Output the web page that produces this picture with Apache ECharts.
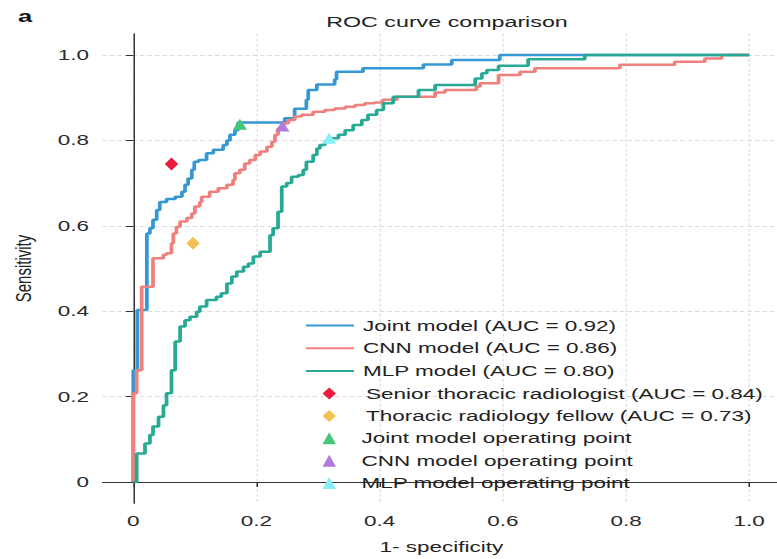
<!DOCTYPE html>
<html>
<head>
<meta charset="utf-8">
<script src="https://cdn.jsdelivr.net/npm/echarts@6/dist/echarts.min.js"></script>
<style>
  html, body { margin: 0; padding: 0; background: #fff; overflow: hidden; }
  /* the reference figure is horizontally stretched; reproduce by scaling the chart box */
  #chart { width: 518px; height: 559px; transform: scaleX(1.5); transform-origin: 0 0; }
</style>
</head>
<body>
<div id="chart"></div>
<script>
// ---- data (ROC points: [1 - specificity, sensitivity]) ----
const jointModel = [[0,0],[0,0.262],[0.0065,0.403],[0.022,0.582],[0.027,0.594],[0.032,0.614],[0.038,0.637],[0.043,0.656],[0.054,0.663],[0.068,0.668],[0.079,0.68],[0.084,0.696],[0.089,0.711],[0.095,0.731],[0.099,0.75],[0.106,0.754],[0.119,0.77],[0.13,0.778],[0.146,0.789],[0.152,0.80],[0.157,0.813],[0.165,0.824],[0.17,0.842],[0.246,0.852],[0.262,0.874],[0.281,0.895],[0.284,0.918],[0.298,0.931],[0.327,0.943],[0.33,0.961],[0.373,0.969],[0.471,0.978],[0.517,0.988],[0.595,1.0],[1,1]];
const cnnModel = [[0,0],[0,0.208],[0.0055,0.262],[0.0136,0.457],[0.032,0.524],[0.049,0.532],[0.054,0.536],[0.062,0.559],[0.065,0.582],[0.07,0.598],[0.076,0.61],[0.087,0.618],[0.095,0.629],[0.1,0.645],[0.108,0.656],[0.111,0.668],[0.124,0.68],[0.138,0.688],[0.152,0.696],[0.162,0.707],[0.165,0.723],[0.173,0.731],[0.181,0.746],[0.189,0.754],[0.198,0.766],[0.206,0.774],[0.217,0.785],[0.225,0.797],[0.23,0.813],[0.235,0.828],[0.244,0.84],[0.252,0.848],[0.262,0.856],[0.273,0.86],[0.292,0.867],[0.311,0.871],[0.327,0.875],[0.344,0.879],[0.36,0.883],[0.376,0.887],[0.392,0.889],[0.405,0.895],[0.428,0.902],[0.49,0.912],[0.506,0.918],[0.557,0.926],[0.563,0.934],[0.593,0.953],[0.628,0.961],[0.652,0.969],[0.79,0.977],[0.879,0.984],[0.928,0.992],[0.955,1.0],[1,1]];
const mlpModel = [[0,0],[0.0055,0.067],[0.019,0.09],[0.027,0.11],[0.032,0.13],[0.041,0.153],[0.049,0.18],[0.054,0.208],[0.062,0.262],[0.068,0.329],[0.076,0.364],[0.084,0.379],[0.092,0.387],[0.103,0.399],[0.108,0.411],[0.119,0.426],[0.135,0.434],[0.143,0.442],[0.152,0.465],[0.16,0.481],[0.168,0.493],[0.179,0.504],[0.187,0.512],[0.195,0.528],[0.206,0.539],[0.222,0.578],[0.227,0.594],[0.235,0.633],[0.241,0.692],[0.249,0.7],[0.257,0.715],[0.268,0.719],[0.276,0.731],[0.281,0.75],[0.292,0.766],[0.298,0.781],[0.303,0.789],[0.311,0.797],[0.319,0.805],[0.333,0.813],[0.344,0.824],[0.357,0.836],[0.371,0.848],[0.381,0.86],[0.395,0.871],[0.406,0.887],[0.422,0.902],[0.463,0.918],[0.49,0.93],[0.555,0.945],[0.566,0.957],[0.574,0.965],[0.593,0.975],[0.641,0.99],[0.733,1.0],[1,1]];
const seniorRadiologist = [[0.062, 0.745]];
const radiologyFellow = [[0.097, 0.559]];
const jointOperatingPoint = [[0.173, 0.838]];
const cnnOperatingPoint = [[0.242, 0.834]];
const mlpOperatingPoint = [[0.318, 0.805]];
const tickValues = [0, 0.2, 0.4, 0.6, 0.8, 1.0];
const seriesNames = {
  joint: 'Joint model (AUC = 0.92)',
  cnn: 'CNN model (AUC = 0.86)',
  mlp: 'MLP model (AUC = 0.80)',
  senior: 'Senior thoracic radiologist (AUC = 0.84)',
  fellow: 'Thoracic radiology fellow (AUC = 0.73)',
  jointOp: 'Joint model operating point',
  cnnOp: 'CNN model operating point',
  mlpOp: 'MLP model operating point'
};

const FONT = '"Liberation Sans", Arial, Helvetica, sans-serif';
const tickFmt = v => (Math.abs(v) < 1e-9 ? '0' : v.toFixed(1));

function axisCommon() {
  return {
    type: 'value', min: -0.05, max: 1.05,
    axisLine: { show: true, lineStyle: { color: '#333', width: 1 } },
    axisTick: { show: true, customValues: tickValues, length: 5, lineStyle: { color: '#333', width: 1 } },
    axisLabel: { customValues: tickValues, formatter: tickFmt, fontFamily: FONT, fontSize: 15, color: '#2a2a2a' },
    splitLine: { show: true, lineStyle: { color: '#dcdcdc', type: [3, 2], width: 0.8 } },
    nameTextStyle: { fontFamily: FONT, fontSize: 15, color: '#222' }
  };
}

const chart = echarts.init(document.getElementById('chart'), null, { renderer: 'svg' });
const xAxis = axisCommon();
xAxis.name = '1- specificity'; xAxis.nameLocation = 'middle'; xAxis.nameGap = 36;
xAxis.axisLabel.margin = 10;
const yAxis = axisCommon();
yAxis.name = 'Sensitivity'; yAxis.nameLocation = 'middle'; yAxis.nameGap = 45; yAxis.nameRotate = 90;
yAxis.axisLabel.margin = 9;

function lineSeries(name, data, color) {
  return { name, type: 'line', data, step: 'end', symbol: 'circle', symbolSize: 0, showSymbol: false,
    lineStyle: { color, width: 2.5 }, itemStyle: { color: 'rgba(0,0,0,0)', borderWidth: 0 },
    z: 2, silent: true, animation: false };
}
function pointSeries(name, data, symbol, size, color) {
  return { name, type: 'scatter', data, symbol, symbolSize: size, itemStyle: { color, opacity: 1 }, z: 5, animation: false };
}

chart.setOption({
  animation: false,
  title: [
    { text: 'ROC curve comparison', left: 293, top: 9, textAlign: 'center',
      textStyle: { fontFamily: FONT, fontSize: 15.5, fontWeight: 'normal', color: '#222' } },
    { text: 'a', left: 7, top: 3, textStyle: { fontFamily: FONT, fontSize: 17, fontWeight: 'bold', color: '#111' } }
  ],
  grid: { left: 68.33, top: 33.65, width: 451.7, height: 469.7, containLabel: false, outerBoundsMode: 'none' },
  xAxis, yAxis,
  legend: [
    { orient: 'vertical', left: 198, top: 313, itemWidth: 32, itemHeight: 14, itemGap: 7.7,
      data: [seriesNames.joint, seriesNames.cnn, seriesNames.mlp],
      textStyle: { fontFamily: FONT, fontSize: 15, color: '#222', lineHeight: 14, padding: [0, 0, 0, 1] },
      selectedMode: false },
    { orient: 'vertical', left: 210, top: 381, itemWidth: 9, itemHeight: 12, itemGap: 7.4,
      data: [
        { name: seriesNames.senior, icon: 'diamond', textStyle: { padding: [0, 0, 0, 15] } },
        { name: seriesNames.fellow, icon: 'diamond', textStyle: { padding: [0, 0, 0, 15] } },
        { name: seriesNames.jointOp, icon: 'triangle', textStyle: { padding: [0, 0, 0, 12] } },
        { name: seriesNames.cnnOp, icon: 'triangle', textStyle: { padding: [0, 0, 0, 12] } },
        { name: seriesNames.mlpOp, icon: 'triangle', textStyle: { padding: [0, 0, 0, 12] } }
      ],
      textStyle: { fontFamily: FONT, fontSize: 15, color: '#222', lineHeight: 12 },
      selectedMode: false }
  ],
  series: [
    lineSeries(seriesNames.joint, jointModel, '#3598d2'),
    lineSeries(seriesNames.cnn, cnnModel, '#f0807c'),
    lineSeries(seriesNames.mlp, mlpModel, '#27a994'),
    pointSeries(seriesNames.senior, seniorRadiologist, 'diamond', [9, 13], '#ec1c3e'),
    pointSeries(seriesNames.fellow, radiologyFellow, 'diamond', [9, 13], '#f3c153'),
    pointSeries(seriesNames.jointOp, jointOperatingPoint, 'triangle', [9.5, 11], '#45c77a'),
    pointSeries(seriesNames.cnnOp, cnnOperatingPoint, 'triangle', [9.5, 11], '#b27ad9'),
    pointSeries(seriesNames.mlpOp, mlpOperatingPoint, 'triangle', [9.5, 11], '#85eef8')
  ]
});
</script>
</body>
</html>
